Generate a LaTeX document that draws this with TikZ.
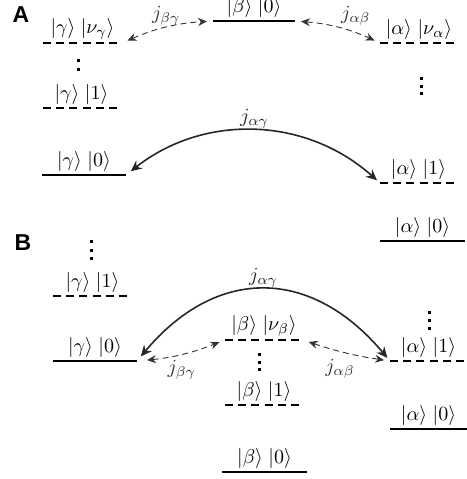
\documentclass[tikz,border=0pt]{standalone}
\usepackage{amsmath,amssymb}
\usepackage{fontspec}
\newfontfamily\panelfont{Liberation Sans}
\usetikzlibrary{arrows.meta,calc}
\tikzset{
  lvl/.style={line width=1pt},
  dlvl/.style={line width=1pt, dash pattern=on 4pt off 2.6pt},
  ket/.style={anchor=south, inner sep=0.5pt, yshift=1pt},
  hop/.style={{Stealth[length=4.5pt,width=4pt]}-{Stealth[length=4.5pt,width=4pt]},
    densely dashed, line width=0.45pt, black!80, shorten <=3pt, shorten >=3pt},
  bighop/.style={{Stealth[length=5.5pt,width=5pt]}-{Stealth[length=5.5pt,width=5pt]},
    line width=0.8pt, black!85, shorten <=3pt, shorten >=2pt},
  jlbl/.style={inner sep=1pt},
  vdot/.style={fill, inner sep=0pt, minimum size=1.5pt},
  panel/.style={font=\panelfont\bfseries\fontsize{11.5}{13}\selectfont, inner sep=0pt}
}
\begin{document}
\begin{tikzpicture}[x=0.5pt,y=-0.5pt]
  \useasboundingbox (0,0) rectangle (467,479);

  % panel A
  \node[panel] (pa) at (21,15) {A};
  \draw[dlvl] (43,43) coordinate (gnL) -- (122,43) coordinate (gnR)
    node[ket, midway] (gnT) {$|\gamma\rangle\;|\nu_\gamma\rangle$};
  \draw[dlvl] (43,108) coordinate (g1L) -- (120,108) coordinate (g1R)
    node[ket, midway] (g1T) {$|\gamma\rangle\;|1\rangle$};
  \draw[lvl] (42,175) coordinate (g0L) -- (126,175) coordinate (g0R)
    node[ket, midway] (g0T) {$|\gamma\rangle\;|0\rangle$};
  \draw[lvl] (213,21) coordinate (b0L) -- (295,21) coordinate (b0R)
    node[ket, midway] (b0T) {$|\beta\rangle\;|0\rangle$};
  \draw[dlvl] (380,43) coordinate (anL) -- (458,43) coordinate (anR)
    node[ket, midway] (anT) {$|\alpha\rangle\;|\nu_\alpha\rangle$};
  \draw[dlvl] (380,183) coordinate (a1L) -- (457,183) coordinate (a1R)
    node[ket, midway] (a1T) {$|\alpha\rangle\;|1\rangle$};
  \draw[lvl] (380,241) coordinate (a0L) -- (465,241) coordinate (a0R)
    node[ket, midway] (a0T) {$|\alpha\rangle\;|0\rangle$};
  \foreach \k/\y in {1/60,2/69} \node[vdot] (gd\k) at (79,\y) {};
  \foreach \k/\y in {1/78,2/86,3/93} \node[vdot] (ad\k) at (422,\y) {};

  \draw[hop] (gnR) to[bend left=10] node[jlbl, midway, above] (jbgA) {$j_{\beta\gamma}$} (b0L);
  \draw[hop] (b0R) to[bend left=10] node[jlbl, midway, above right] (jabA) {$j_{\alpha\beta}$} (anL);
  \draw[bighop] (g0R) to[bend left=40] node[jlbl, midway, above] (jagA) {$j_{\alpha\gamma}$} (a1L);

  % panel B
  \node[panel] (pb) at (23,243) {B};
  \foreach \k/\y in {1/241,2/250,3/258} \node[vdot] (gdB\k) at (92,\y) {};
  \draw[dlvl] (53,296) coordinate (g1BL) -- (132,296) coordinate (g1BR)
    node[ket, midway] (g1BT) {$|\gamma\rangle\;|1\rangle$};
  \draw[lvl] (53,361) coordinate (g0BL) -- (137,361) coordinate (g0BR)
    node[ket, midway] (g0BT) {$|\gamma\rangle\;|0\rangle$};
  \draw[dlvl] (225,340) coordinate (bnBL) -- (303,340) coordinate (bnBR)
    node[ket, midway] (bnBT) {$|\beta\rangle\;|\nu_\beta\rangle$};
  \foreach \k/\y in {1/354,2/362,3/369} \node[vdot] (bdB\k) at (260,\y) {};
  \draw[dlvl] (225,405) coordinate (b1BL) -- (303,405) coordinate (b1BR)
    node[ket, midway] (b1BT) {$|\beta\rangle\;|1\rangle$};
  \draw[lvl] (222,472) coordinate (b0BL) -- (307,472) coordinate (b0BR)
    node[ket, midway] (b0BT) {$|\beta\rangle\;|0\rangle$};
  \foreach \k/\y in {1/312,2/320,3/328} \node[vdot] (adB\k) at (430,\y) {};
  \draw[dlvl] (390,361) coordinate (a1BL) -- (467,361) coordinate (a1BR)
    node[ket, midway] (a1BT) {$|\alpha\rangle\;|1\rangle$};
  \draw[lvl] (390,429) coordinate (a0BL) -- (467,429) coordinate (a0BR)
    node[ket, midway] (a0BT) {$|\alpha\rangle\;|0\rangle$};

  \draw[bighop] (g0BR) to[out=50, in=130, looseness=1.25] node[jlbl, midway, above] (jagB) {$j_{\alpha\gamma}$} (a1BL);
  \draw[hop, shorten <=5pt] (g0BR) to[bend right=8] node[jlbl, midway, below=2pt] (jbgB) {$j_{\beta\gamma}$} (bnBL);
  \draw[hop] (bnBR) to[bend right=5] node[jlbl, midway, below=2pt, xshift=-3pt] (jabB) {$j_{\alpha\beta}$} (a1BL);
\end{tikzpicture}
\end{document}
